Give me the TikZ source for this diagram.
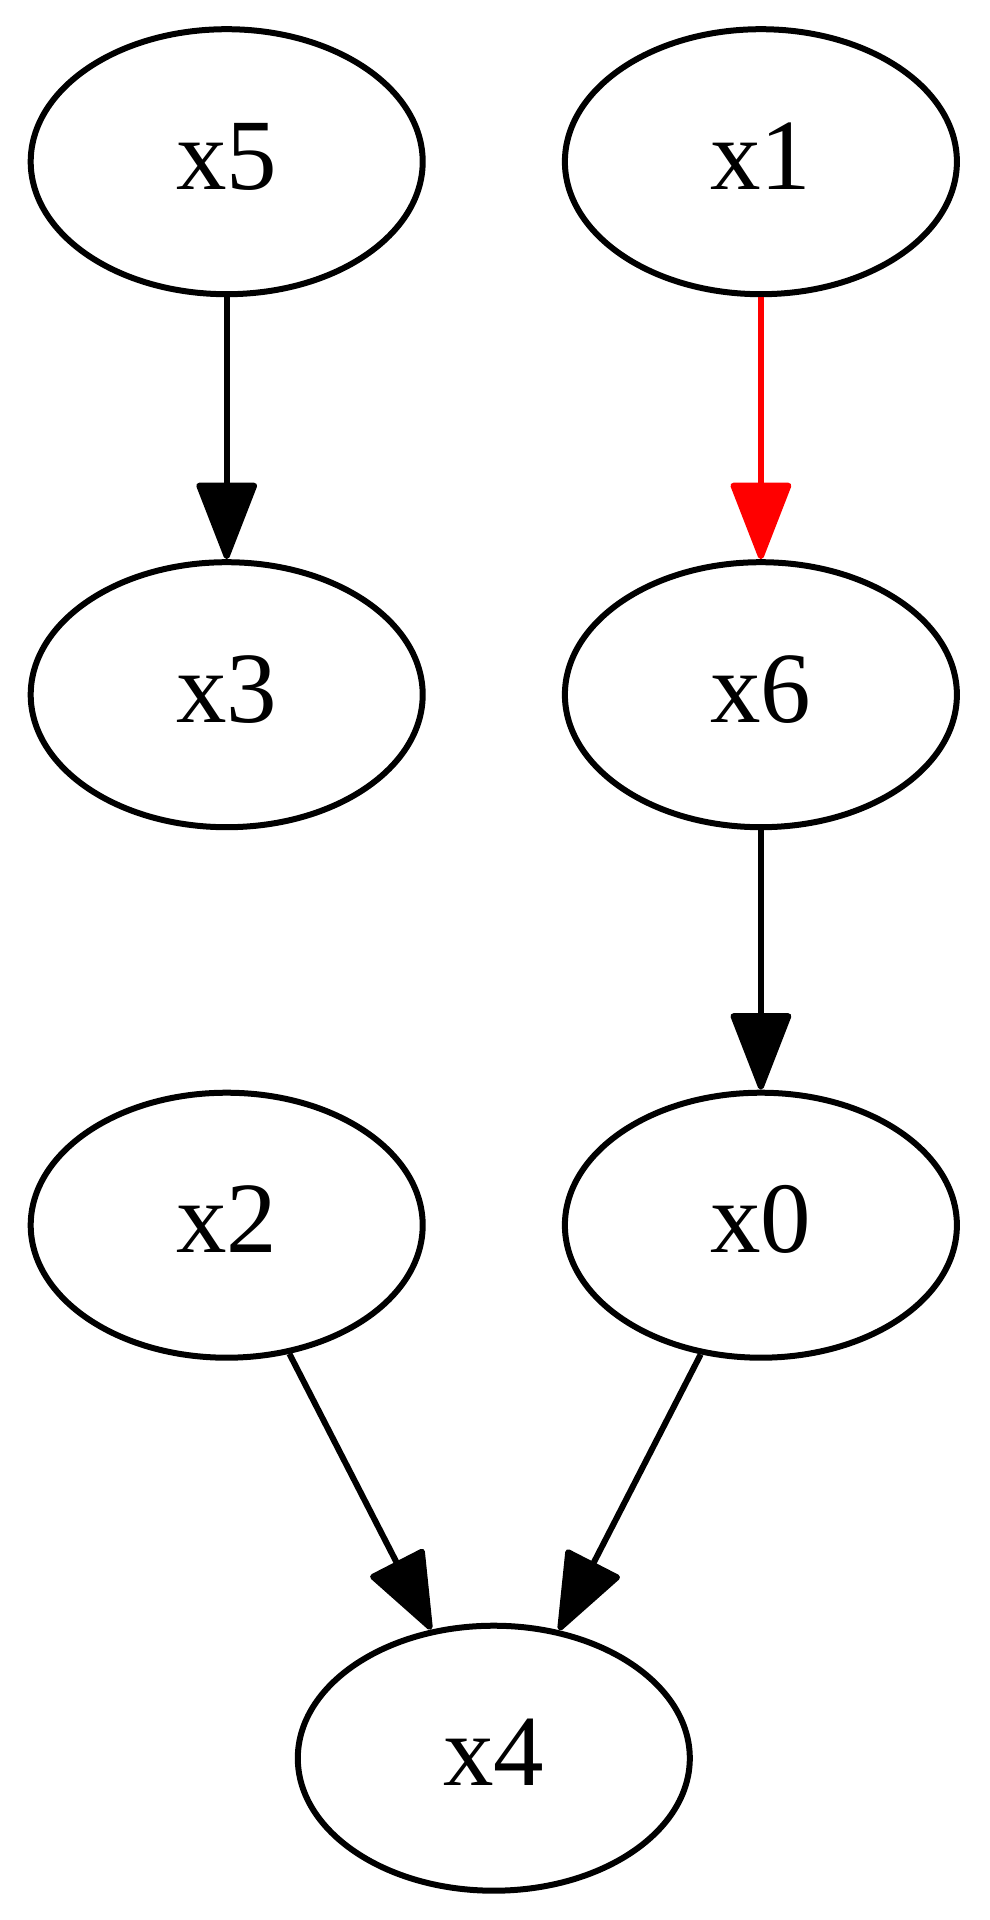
\documentclass[tikz,border=0pt]{standalone}
\usepackage{fontspec}
\setmainfont{Liberation Serif}
\usetikzlibrary{shapes.geometric,arrows.meta}
\begin{document}
\begin{tikzpicture}[x=1pt,y=-1pt,
  vnode/.style={ellipse,draw=black,line width=6pt,minimum width=392pt,minimum height=265pt,inner sep=0pt,
    text height=70pt,text depth=15pt,
    font=\fontsize{101pt}{120pt}\selectfont},
  edge/.style={line width=6pt,-{Triangle[length=82pt,width=62pt,round]}},
]
\useasboundingbox (0,0) rectangle (990,1920);
\node[vnode] (x5) at (226.7,161.7) {x5};
\node[vnode] (x1) at (760.9,161.7) {x1};
\node[vnode] (x3) at (226.7,694.7) {x3};
\node[vnode] (x6) at (760.9,694.7) {x6};
\node[vnode] (x2) at (226.7,1225.2) {x2};
\node[vnode] (x0) at (760.9,1225.2) {x0};
\node[vnode] (x4) at (493.8,1758.2) {x4};
\draw[edge] (x5) -- (x3);
\draw[edge,draw=red,fill=red] (x1) -- (x6);
\draw[edge] (x6) -- (x0);
\draw[edge] (x2.-64.7) -- (x4.116.1);
\draw[edge] (x0.-115.3) -- (x4.63.9);
\end{tikzpicture}
\end{document}
